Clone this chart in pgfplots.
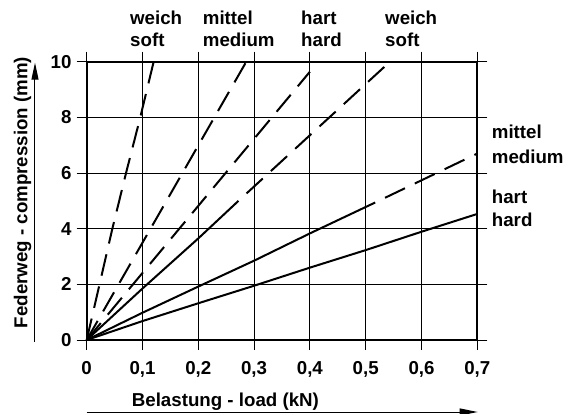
\documentclass[border=0pt]{standalone}
\usepackage{fontspec}
\setmainfont{Liberation Sans}
\usepackage{pgfplots}
\pgfplotsset{compat=1.18}
\usetikzlibrary{arrows.meta}
\newcommand\lbl{\fontsize{18.7bp}{23bp}\selectfont\bfseries}

\begin{document}
\begin{tikzpicture}
\path[use as bounding box] (-86.7bp,-74bp) rectangle (479.3bp,340bp);
\begin{axis}[
  at={(0,0)}, anchor=south west,
  width=390.6bp, height=278.3bp, scale only axis,
  xmin=0, xmax=0.7, ymin=0, ymax=10,
  xtick={0,0.1,0.2,0.3,0.4,0.5,0.6,0.7},
  xticklabels={0,{0,1},{0,2},{0,3},{0,4},{0,5},{0,6},{0,7}},
  ytick={0,2,4,6,8,10},
  grid=major,
  major grid style={black, line width=1bp},
  axis line style={line width=2bp},
  tick align=outside,
  major tick length=10bp,
  tick style={black, line width=1bp},
  ticklabel style={font=\lbl},
  /pgf/number format/assume math mode=true,
  xticklabel style={inner sep=0pt, yshift=-11.5bp},
  yticklabel style={inner sep=0pt, xshift=-5bp},
  clip=false,
]
% dashed curves
\addplot[black, line width=2bp, dash pattern=on 22bp off 11bp] coordinates {(0,0) (0.023,2) (0.046,4) (0.0705,6) (0.096,8) (0.12,10)};
\addplot[black, line width=2bp, dash pattern=on 22bp off 11bp] coordinates {(0,0) (0.286,10)};
\addplot[black, line width=2bp, dash pattern=on 22bp off 11bp] coordinates {(0,0) (0.4,9.64)};
% solid, then dashed
\addplot[black, line width=2bp] coordinates {(0,0) (0.1,1.85) (0.2,3.65) (0.272,5.0)};
\addplot[black, line width=2bp, dash pattern=on 22bp off 11bp, dash phase=22bp] coordinates {(0.272,5.0) (0.5435,10)};
\addplot[black, line width=2bp] coordinates {(0,0) (0.1,0.98) (0.2,1.92) (0.3,2.85) (0.4,3.83) (0.517,4.94)};
\addplot[black, line width=2bp, dash pattern=on 22bp off 11bp, dash phase=22bp] coordinates {(0.517,4.94) (0.7,6.7)};
% hart, solid
\addplot[black, line width=2bp] coordinates {(0,0) (0.1,0.68) (0.2,1.32) (0.3,1.95) (0.4,2.6) (0.5,3.23) (0.6,3.89) (0.7,4.53)};
\end{axis}

\tikzset{lb/.style={font=\lbl, inner sep=0pt, anchor=base west}}
% labels above
\node[lb] at (43.3bp,315bp) {weich};
\node[lb] at (43.3bp,293.3bp) {soft};
\node[lb] at (116bp,315bp) {mittel};
\node[lb] at (116bp,293.3bp) {medium};
\node[lb] at (214.3bp,315bp) {hart};
\node[lb] at (214.3bp,293.3bp) {hard};
\node[lb] at (298.3bp,315bp) {weich};
\node[lb] at (298.3bp,293.3bp) {soft};
% labels right
\node[lb] at (405bp,201bp) {mittel};
\node[lb] at (405bp,176.7bp) {medium};
\node[lb] at (405bp,136.7bp) {hart};
\node[lb] at (405bp,113.3bp) {hard};
% axis titles
\node[lb] at (45bp,-66bp) {Belastung - load (kN)};
\node[font=\lbl, inner sep=0pt, anchor=base, rotate=90] at (-59.2bp,147.5bp) {Federweg - compression (mm)};
% arrows
\draw[line width=1bp, -{Triangle[length=18bp,width=7bp]}] (0bp,-72bp) -- (391bp,-72bp);
\draw[line width=1bp, -{Triangle[length=17bp,width=7bp]}] (-51.7bp,-1.7bp) -- (-51.7bp,277.3bp);
\end{tikzpicture}
\end{document}
